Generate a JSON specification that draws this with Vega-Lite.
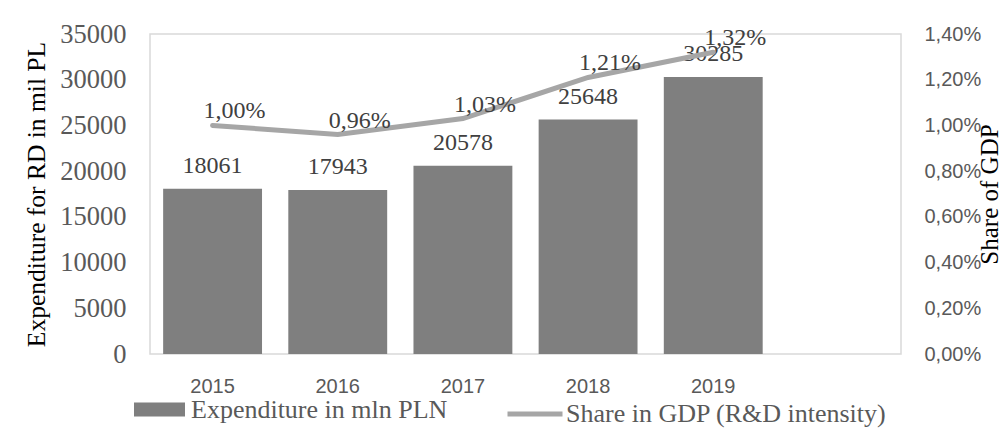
{
  "$schema": "https://vega.github.io/schema/vega-lite/v6.json",
  "width": 751,
  "height": 320,
  "autosize": "none",
  "padding": {"left": 150, "top": 34, "right": 101, "bottom": 87},
  "background": "white",
  "data": {
    "values": [
      {"year": "2015", "exp": 18061, "share": 0.0100},
      {"year": "2016", "exp": 17943, "share": 0.0096},
      {"year": "2017", "exp": 20578, "share": 0.0103},
      {"year": "2018", "exp": 25648, "share": 0.0121},
      {"year": "2019", "exp": 30285, "share": 0.0132}
    ]
  },
  "config": {
    "view": {"stroke": "#d9d9d9", "strokeWidth": 1.5},
    "locale": {"number": {"decimal": ",", "thousands": " ", "grouping": [3], "currency": ["", " zł"]}}
  },
  "encoding": {
    "x": {
      "field": "year",
      "type": "nominal",
      "scale": {"domain": ["2015", "2016", "2017", "2018", "2019", "2020"], "paddingInner": 0.21, "paddingOuter": 0.105},
      "axis": {
        "labelExpr": "datum.value == '2020' ? '' : datum.label",
        "title": null,
        "labelAngle": 0,
        "domain": false,
        "ticks": false,
        "grid": false,
        "labelPadding": 22,
        "labelFont": "Liberation Sans",
        "labelFontSize": 20,
        "labelColor": "#595959"
      }
    }
  },
  "layer": [
    {
      "encoding": {
        "y": {
          "field": "exp",
          "type": "quantitative",
          "scale": {"domain": [0, 35000], "nice": false},
          "axis": {
            "values": [0, 5000, 10000, 15000, 20000, 25000, 30000, 35000],
            "format": "d",
            "grid": false,
            "domain": false,
            "ticks": false,
            "labelPadding": 24,
            "labelFont": "Liberation Serif",
            "labelFontSize": 26.5,
            "labelColor": "#595959",
            "title": "Expenditure for RD in mil PL",
            "titleFont": "Liberation Serif",
            "titleFontSize": 25.5,
            "titleFontWeight": "normal",
            "titleColor": "#000000",
            "titlePadding": 10
          }
        }
      },
      "layer": [
        {
          "mark": {"type": "bar", "color": "#7f7f7f"},
          "encoding": {
            "fill": {
              "datum": "Expenditure in mln PLN",
              "type": "nominal",
              "scale": {"range": ["#7f7f7f"]},
              "legend": {
                "title": null,
                "orient": "none",
                "legendX": -16,
                "legendY": 350,
                "padding": 0,
                "symbolType": "M-1,-0.275H1V0.275H-1Z",
                "symbolSize": 2601,
                "symbolStrokeWidth": 0,
                "labelFont": "Liberation Serif",
                "labelFontSize": 26,
                "labelColor": "#595959",
                "labelOffset": 6,
                "labelLimit": 0
              }
            }
          }
        },
        {
          "mark": {"type": "text", "baseline": "alphabetic", "dy": -16, "font": "Liberation Serif", "fontSize": 24, "color": "#404040"},
          "encoding": {
            "text": {"field": "exp", "type": "quantitative", "format": "d"}
          }
        }
      ]
    },
    {
      "encoding": {
        "y": {
          "field": "share",
          "type": "quantitative",
          "scale": {"domain": [0, 0.014], "nice": false},
          "axis": {
            "orient": "right",
            "values": [0, 0.002, 0.004, 0.006, 0.008, 0.01, 0.012, 0.014],
            "format": ".2%",
            "grid": false,
            "domain": false,
            "ticks": false,
            "labelPadding": 23,
            "labelFont": "Liberation Sans",
            "labelFontSize": 20,
            "labelColor": "#595959",
            "title": "Share of GDP",
            "titleAngle": 270,
            "titleFont": "Liberation Serif",
            "titleFontSize": 25,
            "titleFontWeight": "normal",
            "titleColor": "#000000",
            "titlePadding": 22
          }
        }
      },
      "layer": [
        {
          "mark": {"type": "line", "strokeWidth": 5, "strokeCap": "round"},
          "encoding": {
            "stroke": {
              "datum": "Share in GDP (R&D intensity)",
              "type": "nominal",
              "scale": {"range": ["#a6a6a6"]},
              "legend": {
                "title": null,
                "orient": "none",
                "legendX": 355,
                "legendY": 350,
                "padding": 0,
                "symbolType": "stroke",
                "symbolSize": 3025,
                "symbolStrokeWidth": 5,
                "labelFont": "Liberation Serif",
                "labelFontSize": 26,
                "labelColor": "#595959",
                "labelOffset": 1,
                "labelLimit": 0
              }
            }
          }
        },
        {
          "mark": {"type": "text", "baseline": "alphabetic", "dx": 22, "dy": -7, "font": "Liberation Serif", "fontSize": 24, "color": "#404040"},
          "encoding": {
            "text": {"field": "share", "type": "quantitative", "format": ".2%"}
          }
        }
      ]
    }
  ],
  "resolve": {"scale": {"y": "independent"}}
}
